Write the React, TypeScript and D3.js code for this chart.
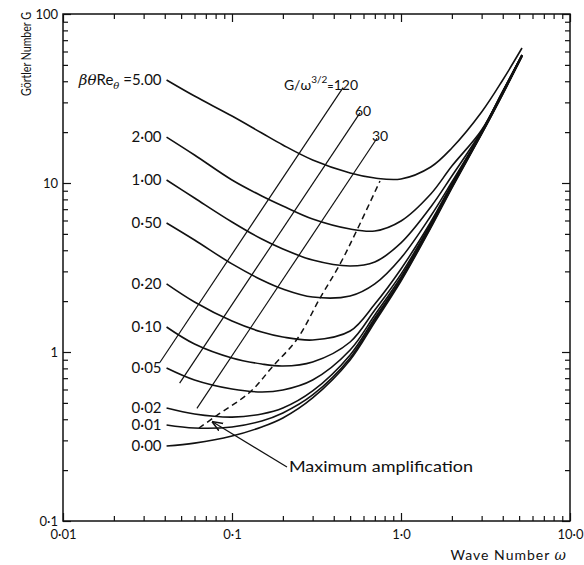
import React, { useEffect, useRef } from 'react'
import * as d3 from 'd3'

// wave numbers the curves were read at
const omega = [0.041, 0.06, 0.1, 0.15, 0.2, 0.3, 0.5, 0.7, 1.0, 1.5, 2, 3, 4, 5.2]

// Gortler number G for each beta*theta*Re_theta
const curveLabels = ['5.00', '2·00', '1·00', '0·50', '0·20', '0·10', '0·05', '0·02', '0·01', '0·00']
const g500 = [40.7, 32.7, 24.9, 19.76, 16.78, 13.68, 11.46, 10.7, 10.56, 12.43, 16.1, 26.3, 40.7, 62.9]
const g200 = [18.7, 14.65, 10.42, 8.38, 7.31, 6.12, 5.34, 5.2, 5.96, 8.61, 12.6, 20.6, 35.0, 57.2]
const g100 = [10.42, 8.15, 5.88, 4.66, 4.07, 3.5, 3.23, 3.41, 4.42, 7.21, 11.0, 20.3, 34.6, 57.2]
const g050 = [5.8, 4.6, 3.32, 2.67, 2.36, 2.115, 2.145, 2.53, 3.6, 6.38, 10.14, 20.0, 34.6, 57.2]
const g020 = [2.53, 1.977, 1.525, 1.313, 1.227, 1.178, 1.331, 1.923, 3.1, 5.88, 9.86, 20.0, 34.6, 57.2]
const g010 = [1.406, 1.115, 0.922, 0.849, 0.826, 0.873, 1.146, 1.772, 2.89, 5.72, 9.73, 19.8, 34.1, 57.2]
const g005 = [0.804, 0.683, 0.604, 0.58, 0.596, 0.683, 1.028, 1.656, 2.78, 5.64, 9.6, 19.8, 34.1, 56.4]
const g002 = [0.466, 0.43, 0.412, 0.43, 0.466, 0.588, 0.96, 1.589, 2.7, 5.57, 9.47, 19.8, 34.1, 56.4]
const g001 = [0.37, 0.355, 0.36, 0.391, 0.436, 0.557, 0.922, 1.546, 2.67, 5.49, 9.47, 19.5, 33.6, 56.4]
const g000 = [0.278, 0.289, 0.318, 0.36, 0.407, 0.535, 0.897, 1.505, 2.63, 5.42, 9.34, 19.5, 33.6, 56.4]
const curveValues = [g500, g200, g100, g050, g020, g010, g005, g002, g001, g000]

// maximum amplification locus (dashed)
const maxAmpOmega = [0.0638, 0.0804, 0.128, 0.175, 0.243, 0.332, 0.436, 0.549, 0.751]
const maxAmpG = [0.355, 0.418, 0.58, 0.826, 1.194, 2.087, 3.32, 5.27, 10.28]

// G / omega^(3/2) = const lines
const ratioLabels = ['120', '60', '30']
const ratioStartOmega = [0.0375, 0.049, 0.062]
const ratioStartG = [0.87, 0.655, 0.464]
const ratioEndOmega = [0.454, 0.572, 0.721]
const ratioEndG = [36.7, 26.0, 18.4]

const xTickValues = [0.01, 0.1, 1, 10]
const xTickLabels = ['0·01', '0·1', '1·0', '10·0']
const yTickValues = [0.1, 1, 10, 100]
const yTickLabels = ['0·1', '1', '10', '100']

// arrow of the note
const arrowTip = [0.077, 0.385]
const arrowTail = [0.2115, 0.2088]

const width = 584
const height = 565
const font = 'Lato, "DejaVu Sans", sans-serif'

function App() {
  const ref = useRef(null)

  useEffect(() => {
    const svg = d3.select(ref.current)
    svg.selectAll('*').remove()

    const x = d3.scaleLog().domain([0.01, 10]).range([63, 570])
    const y = d3.scaleLog().domain([0.1, 100]).range([521, 14])

    const minorX = []
    ;[0.01, 0.1, 1].forEach((d) => { for (let k = 2; k < 10; k++) minorX.push(d * k) })
    const minorY = []
    ;[0.1, 1, 10].forEach((d) => { for (let k = 2; k < 10; k++) minorY.push(d * k) })

    const styleAxis = (g) => {
      g.select('.domain').remove()
      g.selectAll('line').attr('stroke', '#111').attr('stroke-width', 1.2)
      g.selectAll('text').style('font-family', font).style('font-size', '13px').attr('fill', '#111')
    }

    // bottom
    svg.append('g').attr('transform', `translate(0,${y(0.1)})`)
      .call(d3.axisBottom(x).tickValues(xTickValues).tickSize(-8).tickPadding(9).tickFormat((d, i) => xTickLabels[i]))
      .call(styleAxis)
    svg.append('g').attr('transform', `translate(0,${y(0.1)})`)
      .call(d3.axisBottom(x).tickValues(minorX).tickSize(-5).tickFormat(() => ''))
      .call(styleAxis)
    // top
    svg.append('g').attr('transform', `translate(0,${y(100)})`)
      .call(d3.axisTop(x).tickValues(xTickValues).tickSize(-8).tickFormat(() => ''))
      .call(styleAxis)
    svg.append('g').attr('transform', `translate(0,${y(100)})`)
      .call(d3.axisTop(x).tickValues(minorX).tickSize(-5).tickFormat(() => ''))
      .call(styleAxis)
    // left
    svg.append('g').attr('transform', `translate(${x(0.01)},0)`)
      .call(d3.axisLeft(y).tickValues(yTickValues).tickSize(-8).tickPadding(5).tickFormat((d, i) => yTickLabels[i]))
      .call(styleAxis)
    svg.append('g').attr('transform', `translate(${x(0.01)},0)`)
      .call(d3.axisLeft(y).tickValues(minorY).tickSize(-5).tickFormat(() => ''))
      .call(styleAxis)
    // right
    svg.append('g').attr('transform', `translate(${x(10)},0)`)
      .call(d3.axisRight(y).tickValues(yTickValues).tickSize(-8).tickFormat(() => ''))
      .call(styleAxis)
    svg.append('g').attr('transform', `translate(${x(10)},0)`)
      .call(d3.axisRight(y).tickValues(minorY).tickSize(-5).tickFormat(() => ''))
      .call(styleAxis)

    // frame
    svg.append('rect')
      .attr('x', x(0.01)).attr('y', y(100))
      .attr('width', x(10) - x(0.01)).attr('height', y(0.1) - y(100))
      .attr('fill', 'none').attr('stroke', '#111').attr('stroke-width', 1.5)

    const line = d3.line().x((d) => x(d[0])).y((d) => y(d[1])).curve(d3.curveCatmullRom.alpha(0.5))

    // G/w^1.5 lines
    ratioLabels.forEach((lab, i) => {
      svg.append('path')
        .attr('d', d3.line().x((d) => x(d[0])).y((d) => y(d[1]))([[ratioStartOmega[i], ratioStartG[i]], [ratioEndOmega[i], ratioEndG[i]]]))
        .attr('fill', 'none').attr('stroke', '#111').attr('stroke-width', 1.2)
    })
    const ex = ratioEndOmega.map((w) => x(w))
    const ey = ratioEndG.map((g) => y(g))
    const t0 = svg.append('text')
      .attr('x', ex[0] + 15).attr('y', ey[0] + 2)
      .attr('text-anchor', 'end')
      .style('font-family', font).style('font-size', '14px').attr('fill', '#111')
    t0.append('tspan').text('G/ω')
    t0.append('tspan').attr('dy', -7).style('font-size', '10px').text('3/2')
    t0.append('tspan').attr('dy', 7).style('font-size', '11px').text('=')
    t0.append('tspan').text(ratioLabels[0])
    ratioLabels.slice(1).forEach((lab, j) => {
      svg.append('text')
        .attr('x', ex[j + 1] - 5).attr('y', ey[j + 1] + 3)
        .style('font-family', font).style('font-size', '14px').attr('fill', '#111')
        .text(lab)
    })

    // main curves
    curveValues.forEach((vals, i) => {
      const pts = omega.map((w, j) => [w, vals[j]])
      svg.append('path')
        .attr('d', line(pts))
        .attr('fill', 'none').attr('stroke', '#111').attr('stroke-width', 1.6)

      const t = svg.append('text')
        .attr('x', x(omega[0]) - 5).attr('y', y(vals[0]))
        .attr('dy', '0.36em')
        .attr('text-anchor', 'end')
        .style('font-family', font).style('font-size', '15px').attr('fill', '#111')
      if (i === 0) {
        t.append('tspan').style('font-family', '"DejaVu Serif", serif').style('font-style', 'italic').text('βθ')
        t.append('tspan').text('Re')
        t.append('tspan').attr('dy', 4).style('font-size', '10px').style('font-family', '"DejaVu Serif", serif').style('font-style', 'italic').text('θ')
        t.append('tspan').attr('dy', -4).text(' =' + curveLabels[i])
      } else {
        t.text(curveLabels[i])
      }
    })

    // dashed maximum amplification line
    svg.append('path')
      .attr('d', line(maxAmpOmega.map((w, j) => [w, maxAmpG[j]])))
      .attr('fill', 'none').attr('stroke', '#111').attr('stroke-width', 1.5)
      .attr('stroke-dasharray', '6,4')

    // arrow + note
    svg.append('defs').append('marker')
      .attr('id', 'arrowhead').attr('viewBox', '0 0 10 10')
      .attr('refX', 9).attr('refY', 5)
      .attr('markerWidth', 9).attr('markerHeight', 9)
      .attr('orient', 'auto')
      .append('path').attr('d', 'M0,1 L10,5 L0,9').attr('fill', 'none').attr('stroke', '#111').attr('stroke-width', 1.4)
    svg.append('line')
      .attr('x1', x(arrowTail[0])).attr('y1', y(arrowTail[1]))
      .attr('x2', x(arrowTip[0])).attr('y2', y(arrowTip[1]))
      .attr('stroke', '#111').attr('stroke-width', 1.2)
      .attr('marker-end', 'url(#arrowhead)')
    svg.append('text')
      .attr('x', x(arrowTail[0]) + 2).attr('y', y(arrowTail[1]))
      .attr('dy', '0.36em')
      .attr('textLength', 184).attr('lengthAdjust', 'spacingAndGlyphs')
      .style('font-family', font).style('font-size', '15px').attr('fill', '#111')
      .text('Maximum amplification')

    // axis titles
    const xt = svg.append('text')
      .attr('x', 567).attr('y', 560)
      .attr('text-anchor', 'end')
      .style('font-family', font).style('font-size', '14px').attr('fill', '#111')
      .style('letter-spacing', '1px')
    xt.append('tspan').text('Wave Number ')
    xt.append('tspan').style('font-family', '"DejaVu Serif", serif').style('font-style', 'italic').text('ω')

    // y title is squeezed along its length to fit 84px, like the original
    const yt = svg.append('text')
      .style('font-family', font).style('font-size', '14px').attr('fill', '#111')
      .text('Görtler Number G')
    const len = yt.node().getComputedTextLength() || 108
    yt.attr('transform', `translate(31,96) rotate(-90) scale(${84 / len},1)`)
  }, [])

  return (
    <svg ref={ref} width={width} height={height}
      style={{ position: 'absolute', left: 0, top: 0, background: 'white' }} />
  )
}

export default App
